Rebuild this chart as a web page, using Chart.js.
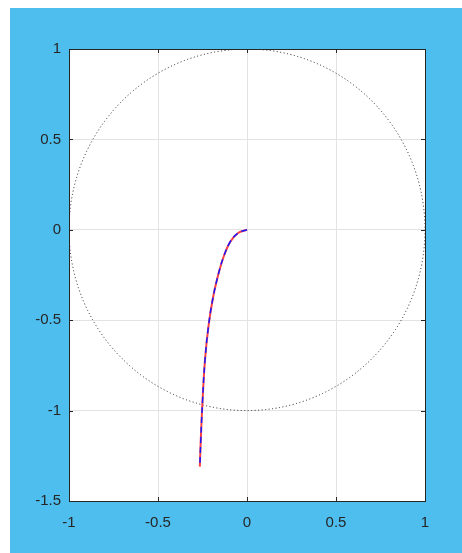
<!DOCTYPE html>
<html>
<head>
<meta charset="utf-8">
<script src="https://cdn.jsdelivr.net/npm/chart.js@4/dist/chart.umd.min.js"></script>
<style>
  html, body { margin: 0; padding: 0; background: #ffffff; }
  #frame {
    position: absolute; left: 10px; top: 8px;
    width: 452px; height: 545px;
    background: #4dbeee;
  }
  #frame canvas { position: absolute; left: 0; top: 0; }
</style>
</head>
<body>
<div id="frame"><canvas id="plot" width="452" height="545"></canvas></div>
<script>
// Response locus: real and imaginary parts
const realPart = [0, -0.05, -0.094, -0.13, -0.158, -0.19, -0.216, -0.236, -0.25, -0.26, -0.265];
const imagPart = [0, -0.018, -0.066, -0.145, -0.235, -0.37, -0.53, -0.72, -0.95, -1.17, -1.31];

// Axis limits and tick labels
const xTicks = [-1, -0.5, 0, 0.5, 1];
const yTicks = [-1.5, -1, -0.5, 0, 0.5, 1];
const circleRadius = 1;

const points = realPart.map((x, i) => ({ x: x, y: imagPart[i] }));

// Unit circle (dotted), axis box and inward tick marks
const framePlugin = {
  id: 'frame',
  beforeDatasetsDraw(chart) {
    const { ctx, chartArea: a, scales: { x, y } } = chart;
    const cx = x.getPixelForValue(0), cy = y.getPixelForValue(0);
    const rx = x.getPixelForValue(circleRadius) - cx;
    const ry = cy - y.getPixelForValue(circleRadius);
    ctx.save();
    ctx.beginPath();
    ctx.rect(a.left, a.top, a.right - a.left, a.bottom - a.top);
    ctx.clip();
    ctx.strokeStyle = '#222';
    ctx.lineWidth = 1;
    ctx.setLineDash([1, 2.5]);
    ctx.beginPath();
    ctx.ellipse(cx, cy, rx, ry, 0, 0, Math.PI * 2);
    ctx.stroke();
    ctx.restore();
  },
  afterDatasetsDraw(chart) {
    const { ctx, chartArea: a, scales: { x, y } } = chart;
    ctx.save();
    ctx.strokeStyle = '#262626';
    ctx.lineWidth = 1;
    ctx.beginPath();
    xTicks.forEach(v => {
      const px = Math.round(x.getPixelForValue(v)) + 0.5;
      ctx.moveTo(px, a.bottom); ctx.lineTo(px, a.bottom - 4);
      ctx.moveTo(px, a.top); ctx.lineTo(px, a.top + 4);
    });
    yTicks.forEach(v => {
      const py = Math.round(y.getPixelForValue(v)) + 0.5;
      ctx.moveTo(a.left, py); ctx.lineTo(a.left + 4, py);
      ctx.moveTo(a.right, py); ctx.lineTo(a.right - 4, py);
    });
    ctx.stroke();
    ctx.strokeRect(Math.round(a.left) + 0.5, Math.round(a.top) + 0.5,
      Math.round(a.right - a.left), Math.round(a.bottom - a.top));
    ctx.restore();
  }
};

// White plot background
const bgPlugin = {
  id: 'plotBg',
  beforeDraw(chart) {
    const { ctx, chartArea: a } = chart;
    ctx.save();
    ctx.fillStyle = '#ffffff';
    ctx.fillRect(a.left, a.top, a.right - a.left, a.bottom - a.top);
    ctx.restore();
  }
};

const tickFont = { family: 'Liberation Sans, Arial, sans-serif', size: 15 };
const tickLabel = v => String(v);

new Chart(document.getElementById('plot'), {
  type: 'scatter',
  data: {
    datasets: [
      {
        // dashed blue drawn on top
        data: points,
        showLine: true,
        borderColor: '#1a1aff',
        borderWidth: 1.5,
        borderDash: [6, 4],
        pointRadius: 0,
        tension: 0.4
      },
      {
        data: points,
        showLine: true,
        borderColor: '#ff4040',
        borderWidth: 2,
        pointRadius: 0,
        tension: 0.4
      }
    ]
  },
  options: {
    responsive: false,
    animation: false,
    layout: { padding: { left: 0, top: 41, right: 37, bottom: 0 } },
    plugins: { legend: { display: false }, tooltip: { enabled: false } },
    scales: {
      x: {
        type: 'linear',
        min: -1, max: 1,
        afterBuildTicks: s => { s.ticks = xTicks.map(v => ({ value: v })); },
        afterFit: s => { s.height = 52; },
        grid: { color: '#e3e3e3', drawTicks: false },
        border: { display: false },
        ticks: { color: '#262626', font: tickFont, padding: 13, maxRotation: 0, callback: tickLabel }
      },
      y: {
        type: 'linear',
        min: -1.5, max: 1,
        afterBuildTicks: s => { s.ticks = yTicks.map(v => ({ value: v })); },
        afterFit: s => { s.width = 59; },
        grid: { color: '#e3e3e3', drawTicks: false },
        border: { display: false },
        ticks: { color: '#262626', font: tickFont, padding: 8, callback: tickLabel }
      }
    }
  },
  plugins: [bgPlugin, framePlugin]
});
</script>
</body>
</html>
